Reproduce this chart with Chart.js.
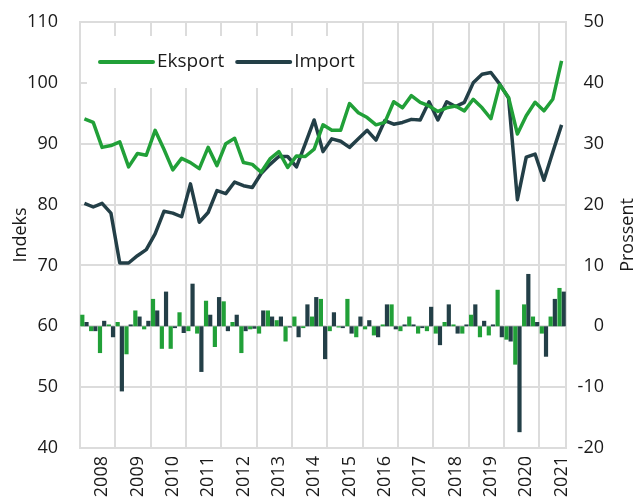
<!DOCTYPE html>
<html>
<head>
<meta charset="utf-8">
<script src="https://cdn.jsdelivr.net/npm/chart.js@4/dist/chart.umd.min.js"></script>
<style>
  html, body { margin: 0; padding: 0; background: #ffffff; }
  #wrap { width: 639px; height: 500px; }
</style>
</head>
<body>
<div id="wrap"><canvas id="chart" width="639" height="500"></canvas></div>
<script>
// Years on the x axis (2021 has three quarters)
const years = [2008, 2009, 2010, 2011, 2012, 2013, 2014, 2015, 2016, 2017, 2018, 2019, 2020, 2021];

// Index series (left axis)
const eksport = [
  94.1, 93.5, 89.4, 89.7, 90.3, 86.2, 88.4, 88.1, 92.2, 89.1, 85.7, 87.6, 86.9, 85.9,
  89.4, 86.4, 90.0, 90.9, 86.9, 86.6, 85.3, 87.5, 88.7, 86.1, 88.0, 87.9, 89.1, 93.1,
  92.2, 92.2, 96.6, 95.1, 94.3, 93.1, 93.5, 96.9, 95.9, 97.9, 96.8, 96.2, 95.3, 95.9,
  96.2, 95.4, 97.3, 95.9, 94.1, 99.7, 97.6, 91.6, 94.6, 96.8, 95.4, 97.3, 103.6
];
const importIndeks = [
  80.2, 79.6, 80.2, 78.6, 70.4, 70.4, 71.6, 72.6, 75.2, 78.9, 78.6, 78.0, 83.4, 77.1,
  78.7, 82.3, 81.8, 83.7, 83.1, 82.8, 85.1, 86.6, 87.9, 87.9, 86.2, 90.0, 93.9, 88.7,
  90.8, 90.4, 89.4, 90.8, 92.2, 90.6, 93.8, 93.2, 93.5, 94.0, 93.9, 96.9, 93.9, 96.9,
  96.1, 96.8, 100.0, 101.4, 101.7, 99.8, 97.5, 80.8, 87.8, 88.3, 84.0, 88.6, 93.1
];

// Percentage change series (right axis)
const eksportProsent = [
  1.9, -0.8, -4.4, 0.3, 0.7, -4.6, 2.6, -0.5, 4.5, -3.7, -3.7, 2.3, -0.8, -1.2,
  4.2, -3.4, 4.1, 0.7, -4.4, -0.5, -1.2, 2.6, 1.0, -2.5, 1.6, -0.3, 1.6, 4.5,
  -0.8, -0.2, 4.5, -1.8, -0.5, -1.5, 0.3, 3.6, -0.8, 1.6, -1.2, -0.8, -1.2, 0.7,
  0.3, -1.2, 1.9, -1.8, -1.5, 6.0, -2.2, -6.3, 3.6, 1.6, -1.2, 1.6, 6.3
];
const importProsent = [
  0.7, -0.8, 0.9, -1.8, -10.7, 0.3, 1.6, 0.9, 2.6, 5.7, -0.3, -1.1, 7.0, -7.5,
  1.9, 4.8, -0.8, 1.9, -0.8, -0.4, 2.6, 1.6, 1.6, -0.2, -1.8, 3.6, 4.8, -5.4,
  2.3, -0.3, -1.2, 1.6, 1.0, -1.8, 3.6, -0.5, 0.3, 0.3, -0.3, 3.2, -3.1, 3.6,
  -1.2, 0.3, 3.6, 0.9, 0.3, -1.8, -2.5, -17.4, 8.6, 0.7, -5.0, 4.5, 5.7
];

// Quarter categories, one per observation
const quarters = years.flatMap(y => ['K1', 'K2', 'K3', 'K4'].map(q => y + q)).slice(0, eksport.length);

const GREEN = '#21a038';
const DARK = '#233f47';
const GRID = '#dcdcdc';
const TEXT = '#1a1a1a';
const FONT = "'Open Sans', 'Noto Sans', sans-serif";

Chart.defaults.font.family = FONT;
Chart.defaults.font.size = 18;
Chart.defaults.color = TEXT;

// Legend drawn inside the plot area on a white box
const insideLegend = {
  id: 'insideLegend',
  beforeDatasetsDraw(chart) {
    const { ctx, chartArea } = chart;
    ctx.save();
    ctx.fillStyle = '#ffffff';
    ctx.fillRect(chartArea.left + 7, chartArea.top + 14, 275, 52);
    ctx.font = "19px " + FONT;
    ctx.textBaseline = 'middle';
    ctx.textAlign = 'left';
    let x = chartArea.left + 20;
    const y = chartArea.top + 40;
    chart.data.datasets.filter(d => d.type === 'line').forEach(d => {
      ctx.strokeStyle = d.borderColor;
      ctx.lineWidth = 4;
      ctx.lineCap = 'round';
      ctx.beginPath();
      ctx.moveTo(x, y);
      ctx.lineTo(x + 53, y);
      ctx.stroke();
      ctx.fillStyle = TEXT;
      ctx.fillText(d.label, x + 57, y);
      x += 57 + ctx.measureText(d.label).width + 13;
    });
    ctx.restore();
  }
};

// Right-hand axis title, reading bottom to top
const rightTitle = {
  id: 'rightTitle',
  afterDraw(chart) {
    const { ctx, chartArea } = chart;
    ctx.save();
    ctx.translate(628, (chartArea.top + chartArea.bottom) / 2);
    ctx.rotate(-Math.PI / 2);
    ctx.font = "18px " + FONT;
    ctx.fillStyle = TEXT;
    ctx.textAlign = 'center';
    ctx.textBaseline = 'middle';
    ctx.fillText('Prossent', 0, 0);
    ctx.restore();
  }
};

new Chart(document.getElementById('chart'), {
  type: 'bar',
  data: {
    labels: quarters,
    datasets: [
      {
        type: 'line', label: 'Eksport', data: eksport, yAxisID: 'y',
        borderColor: GREEN, borderWidth: 3.5, pointRadius: 0, tension: 0,
        borderJoinStyle: 'round', order: 1
      },
      {
        type: 'line', label: 'Import', data: importIndeks, yAxisID: 'y',
        borderColor: DARK, borderWidth: 3.5, pointRadius: 0, tension: 0,
        borderJoinStyle: 'round', order: 1
      },
      {
        type: 'bar', label: 'Eksport, prosent', data: eksportProsent, yAxisID: 'y1',
        backgroundColor: GREEN, categoryPercentage: 0.95, barPercentage: 1, order: 2
      },
      {
        type: 'bar', label: 'Import, prosent', data: importProsent, yAxisID: 'y1',
        backgroundColor: DARK, categoryPercentage: 0.95, barPercentage: 1, order: 2
      }
    ]
  },
  options: {
    responsive: false,
    animation: false,
    devicePixelRatio: 1,
    layout: { padding: { top: 22, right: 35, left: 0, bottom: 0 } },
    plugins: { legend: { display: false }, tooltip: { enabled: false } },
    scales: {
      x: {
        offset: true,
        grid: {
          offset: true,
          drawTicks: false,
          lineWidth: 2,
          color: c => (c.index === undefined || c.index % 4 === 0) ? GRID : 'rgba(0,0,0,0)'
        },
        border: { color: GRID, width: 2 },
        ticks: {
          autoSkip: false, minRotation: 90, maxRotation: 90, padding: 8,
          callback: (v, i) => (i % 4 === 2) ? quarters[i].slice(0, 4) : ''
        },
        afterFit: s => { s.height = 52; }
      },
      y: {
        position: 'left', min: 40, max: 110,
        ticks: { stepSize: 10, padding: 3 },
        grid: {
          color: GRID, lineWidth: 2, drawTicks: true, tickLength: 19,
          tickColor: 'rgba(0,0,0,0)'
        },
        border: { color: GRID, width: 2 },
        title: { display: true, text: 'Indeks', padding: { top: 10, bottom: 0 } },
        afterFit: s => { s.width = 80; }
      },
      y1: {
        position: 'right', min: -20, max: 50,
        ticks: { stepSize: 10, padding: 3, crossAlign: 'far' },
        grid: { display: false, drawTicks: false },
        border: { color: GRID, width: 2 },
        afterFit: s => { s.width = 38; }
      }
    }
  },
  plugins: [insideLegend, rightTitle]
});
</script>
</body>
</html>
